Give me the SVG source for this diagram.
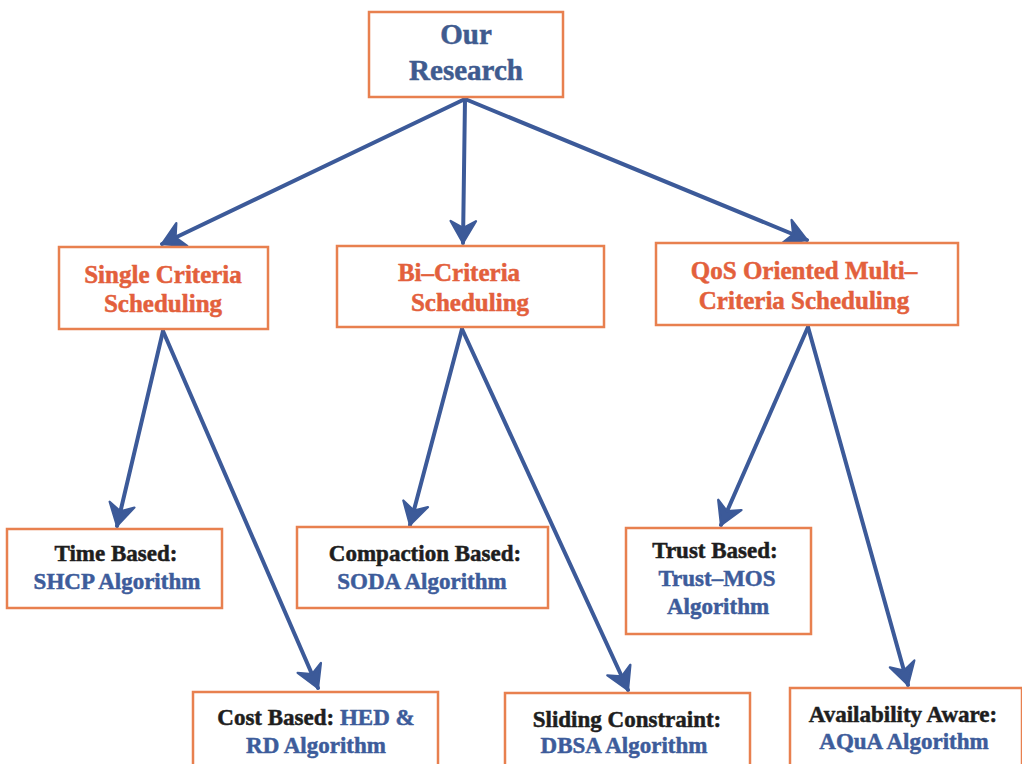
<svg xmlns="http://www.w3.org/2000/svg" width="1022" height="764" viewBox="0 0 1022 764">
  <style>
    .box { fill: #ffffff; stroke: #e8804f; stroke-width: 2.5; }
    text { font-family: "Liberation Serif", "Times New Roman", serif; font-weight: bold; text-anchor: middle; stroke-width: 0.5; }
    .title { fill: #3f5b8f; stroke: #3f5b8f; font-size: 29px; }
    .mid { fill: #e3603c; stroke: #e3603c; font-size: 25px; }
    .leaf { fill: #1e1e1e; stroke: #1e1e1e; font-size: 23px; }
    .alg { fill: #3d5c9b; stroke: #3d5c9b; }
    .conn { stroke: #3c5a99; stroke-width: 4; fill: none; stroke-linecap: round; marker-end: url(#head); }
  </style>
  <defs>
    <marker id="head" markerUnits="userSpaceOnUse" markerWidth="30" markerHeight="30" viewBox="-22 -13 26 26" refX="0" refY="0" orient="auto">
      <path d="M0,0 L-19,-11 L-13,0 L-19,11 Z" fill="#3c5a99" stroke="#3c5a99" stroke-width="2" stroke-linejoin="round"/>
    </marker>
  </defs>
  <rect width="1022" height="764" fill="#ffffff"/>

  <!-- connectors -->
  <g id="connectors">
    <line class="conn" x1="465" y1="99" x2="162" y2="244"/>
    <line class="conn" x1="465" y1="99" x2="463" y2="243"/>
    <line class="conn" x1="465" y1="99" x2="807" y2="240"/>
    <line class="conn" x1="163" y1="331" x2="117" y2="526"/>
    <line class="conn" x1="163" y1="331" x2="318" y2="688"/>
    <line class="conn" x1="462" y1="329" x2="410" y2="525"/>
    <line class="conn" x1="462" y1="329" x2="628" y2="690"/>
    <line class="conn" x1="808" y1="327" x2="721" y2="525"/>
    <line class="conn" x1="808" y1="327" x2="908" y2="685"/>
  </g>

  <!-- root -->
  <g id="our-research">
    <rect class="box" x="369" y="12" width="194" height="85"/>
    <text class="title" x="466" y="44">Our</text>
    <text class="title" x="466" y="80">Research</text>
  </g>

  <!-- scheduling categories -->
  <g id="single-criteria">
    <rect class="box" x="59" y="247" width="209" height="82"/>
    <text class="mid" x="163" y="283">Single Criteria</text>
    <text class="mid" x="163" y="312">Scheduling</text>
  </g>
  <g id="bi-criteria">
    <rect class="box" x="337" y="246" width="267" height="81"/>
    <text class="mid" x="459" y="281">Bi–Criteria</text>
    <text class="mid" x="470" y="311">Scheduling</text>
  </g>
  <g id="qos-multi-criteria">
    <rect class="box" x="656" y="243" width="302" height="82"/>
    <text class="mid" x="804" y="279">QoS Oriented Multi–</text>
    <text class="mid" x="804" y="309">Criteria Scheduling</text>
  </g>

  <!-- algorithms -->
  <g id="time-based">
    <rect class="box" x="7" y="529" width="215" height="79"/>
    <text class="leaf" x="116" y="561">Time Based:</text>
    <text class="leaf alg" x="117" y="589">SHCP Algorithm</text>
  </g>
  <g id="cost-based">
    <rect class="box" x="193" y="692" width="245" height="80"/>
    <text class="leaf" x="316" y="725">Cost Based: <tspan class="alg">HED &amp;</tspan></text>
    <text class="leaf alg" x="316" y="753">RD Algorithm</text>
  </g>
  <g id="compaction-based">
    <rect class="box" x="297" y="527" width="251" height="81"/>
    <text class="leaf" x="425" y="561">Compaction Based:</text>
    <text class="leaf alg" x="422" y="589">SODA Algorithm</text>
  </g>
  <g id="sliding-constraint">
    <rect class="box" x="505" y="693" width="245" height="80"/>
    <text class="leaf" x="627" y="727">Sliding Constraint:</text>
    <text class="leaf alg" x="624" y="753">DBSA Algorithm</text>
  </g>
  <g id="trust-based">
    <rect class="box" x="626" y="528" width="185" height="106"/>
    <text class="leaf" x="715" y="558">Trust Based:</text>
    <text class="leaf alg" x="717" y="586">Trust–MOS</text>
    <text class="leaf alg" x="718" y="614">Algorithm</text>
  </g>
  <g id="availability-aware">
    <rect class="box" x="790" y="688" width="232" height="85"/>
    <text class="leaf" x="903" y="722">Availability Aware:</text>
    <text class="leaf alg" x="904" y="749">AQuA Algorithm</text>
  </g>
</svg>
